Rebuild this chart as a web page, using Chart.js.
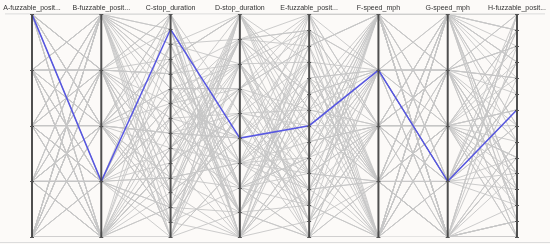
<!DOCTYPE html>
<html>
<head>
<meta charset="utf-8">
<script src="https://cdn.jsdelivr.net/npm/chart.js@4.4.1/dist/chart.umd.min.js"></script>
<style>
    html, body { margin: 0; padding: 0; background: #fcfaf8; }
    #wrap { width: 550px; height: 244px; }
</style>
</head>
<body>
<div id="wrap"><canvas id="g_paralelas"></canvas></div>
<script>
// axis names and number of levels on each axis
let ejes = ["A-fuzzable_posit...", "B-fuzzable_posit...", "C-stop_duration", "D-stop_duration",
            "E-fuzzable_posit...", "F-speed_mph", "G-speed_mph", "H-fuzzable_posit..."];
let niveles = [5, 5, 16, 10, 15, 5, 5, 15];

// one value per row for each axis (level index, 0 = top); row 0 is the highlighted one
let colA = [0,0,0,0,0,1,1,1,1,1,2,2,2,2,2,3,3,3,3,3,4,4,4,4,4,
            4,3,2,1,0,4,3,2,1,0,4,3,2,1,0,4,3,2,1,0,4,3,2,1,0,
            2,0,4,1,3,3,1,0,2,4,4,2,3,0,1,1,4,2,3,0,0,3,1,4,2,
            1,3,0,4,2,2,0,4,1,3,0,4,1,3,2,3,2,1,0,4,4,1,2,3,0];
let colB = [3,0,1,2,4,0,1,2,3,4,0,1,2,3,4,0,1,2,3,4,0,1,2,3,4,
            0,0,0,0,0,1,1,1,1,1,2,2,2,2,2,3,3,3,3,3,4,4,4,4,4,
            0,1,2,3,4,0,1,2,3,4,0,1,2,3,4,0,1,2,3,4,0,1,2,3,4,
            4,3,2,1,0,3,2,1,0,4,1,0,4,2,3,2,4,3,1,0,0,1,2,3,4];
let colC = [1,14,7,3,10,0,12,5,9,15,2,8,13,6,11,4,15,0,7,10,3,12,6,14,9,
            5,11,2,13,8,0,15,4,10,6,12,1,9,14,3,7,13,2,11,5,15,8,0,6,10,
            9,3,14,6,12,1,7,11,0,13,4,15,8,2,10,6,12,3,14,9,5,0,11,7,13,
            2,13,8,4,15,10,5,1,12,7,14,3,9,0,11,8,6,15,4,12,1,10,13,5,3];
let colD = [5,2,8,0,9,4,1,7,3,6,9,5,0,2,8,6,3,7,1,4,8,0,5,9,2,
            3,7,1,9,4,6,0,8,2,5,1,9,3,7,0,4,8,2,6,9,0,5,7,3,1,
            6,0,4,8,2,9,5,1,7,3,8,2,6,0,4,1,9,5,3,7,2,6,0,8,4,
            7,4,9,1,6,0,3,8,5,2,4,7,1,9,6,3,0,8,2,5,9,1,4,6,7];
let colE = [7,12,3,9,0,14,5,10,2,8,13,1,6,11,4,9,0,14,7,3,12,5,10,1,8,
            2,9,13,4,11,6,0,14,8,3,10,5,12,1,7,13,4,9,0,11,6,14,2,8,5,
            11,0,6,14,3,9,12,1,7,10,2,13,5,8,0,14,4,11,6,9,1,12,3,7,10,
            4,13,8,1,10,6,14,3,11,0,7,12,2,9,5,1,10,6,13,4,8,0,11,3,14];
let colF = [1,0,4,2,3,3,1,0,4,2,2,4,3,0,1,0,2,1,3,4,4,3,2,1,0,
            0,1,2,3,4,4,0,1,2,3,3,4,0,1,2,2,3,4,0,1,1,2,3,4,0,
            3,2,0,4,1,1,4,2,0,3,0,3,1,2,4,4,1,3,2,0,2,0,4,3,1,
            4,0,1,3,2,2,3,4,1,0,1,2,0,4,3,3,4,0,1,2,0,1,2,3,4];
let colG = [3,0,1,2,4,0,2,4,1,3,1,3,0,2,4,4,1,3,0,2,2,4,1,3,0,
            0,1,2,3,4,0,1,2,3,4,0,1,2,3,4,0,1,2,3,4,0,1,2,3,4,
            4,2,3,0,1,3,0,1,4,2,2,4,1,0,3,1,3,0,2,4,0,1,2,3,4,
            1,3,0,4,2,4,2,0,3,1,3,0,4,1,2,2,0,4,1,3,4,3,2,1,0];
let colH = [6,13,2,9,0,11,4,14,7,1,10,5,12,3,8,14,0,6,11,2,9,13,4,7,1,
            3,10,14,5,8,0,12,6,1,9,13,2,7,11,4,0,8,14,3,10,5,12,1,6,9,
            12,1,7,4,14,9,3,10,0,6,11,13,2,8,5,4,12,1,9,14,7,0,10,3,13,
            8,5,11,0,13,2,6,1,10,14,3,7,9,4,12,11,2,13,5,0,14,6,8,12,3];

let columnas = [colA, colB, colC, colD, colE, colF, colG, colH];

// build one dataset per row, each axis scaled to 0..1
let datasets = [];
for(let i = 0; i < colA.length; i++){
    let fila = [];
    for(let j = 0; j < columnas.length; j++){
        fila.push(columnas[j][i] / (niveles[j] - 1));
    }
    let resaltada = (i == 0);
    datasets.push({
        data: fila,
        borderColor: resaltada ? "rgba(80,80,225,0.95)" : "#c6c6c6",
        borderWidth: resaltada ? 1.5 : 0.9,
        pointRadius: 0,
        tension: 0,
        fill: false
    });
}

// background, frame and the vertical axes with their level ticks
const ejesPlugin = {
    id: "ejes",
    beforeDraw(chart){
        let c = chart.ctx;
        let area = chart.chartArea;
        c.save();
        c.fillStyle = "#fcfaf8";
        c.fillRect(0, 0, chart.width, chart.height);
        c.strokeStyle = "#dcdcdc";
        c.lineWidth = 1;
        c.beginPath();
        c.moveTo(5, area.top - 0.5);
        c.lineTo(chart.width - 5, area.top - 0.5);
        c.moveTo(0, chart.height - 1.5);
        c.lineTo(chart.width, chart.height - 1.5);
        c.stroke();
        c.restore();
    },
    afterDatasetsDraw(chart){
        let c = chart.ctx;
        let x = chart.scales.x;
        let y = chart.scales.y;
        c.save();
        for(let j = 0; j < ejes.length; j++){
            let px = x.getPixelForValue(j);
            c.strokeStyle = "rgba(60,60,60,0.9)";
            c.lineWidth = 2;
            c.beginPath();
            c.moveTo(px, y.getPixelForValue(0));
            c.lineTo(px, y.getPixelForValue(1));
            c.stroke();
            c.lineWidth = 1;
            c.strokeStyle = "#555";
            c.beginPath();
            for(let k = 0; k < niveles[j]; k++){
                let py = Math.round(y.getPixelForValue(k / (niveles[j] - 1))) + 0.5;
                c.moveTo(px - 2, py);
                c.lineTo(px + 2, py);
            }
            c.stroke();
        }
        c.restore();
    }
};

let ctx = document.getElementById("g_paralelas").getContext("2d");
let grafico = new Chart(ctx, {
    type: "line",
    data: {
        labels: ejes,
        datasets: datasets
    },
    options: {
        responsive: true,
        maintainAspectRatio: false,
        animation: false,
        events: [],
        layout: {
            padding: { top: 2, left: 32, right: 33, bottom: 7 }
        },
        plugins: {
            legend: { display: false },
            tooltip: { enabled: false }
        },
        scales: {
            x: {
                type: "category",
                position: "top",
                offset: false,
                grid: { display: false, drawTicks: false },
                border: { display: false },
                ticks: {
                    autoSkip: false,
                    maxRotation: 0,
                    padding: 2,
                    color: "#333",
                    font: { family: "Liberation Sans", size: 7 }
                }
            },
            y: {
                display: false,
                min: 0,
                max: 1,
                reverse: true
            }
        }
    },
    plugins: [ejesPlugin]
});
</script>
</body>
</html>
